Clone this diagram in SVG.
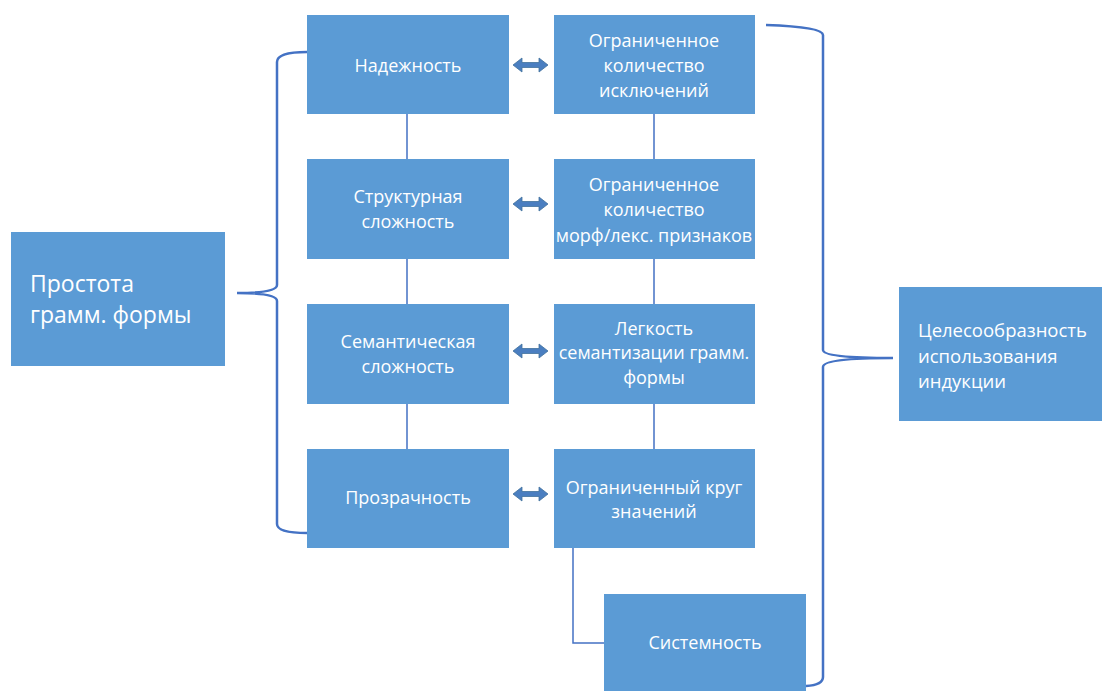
<svg xmlns="http://www.w3.org/2000/svg" width="1102" height="691" viewBox="0 0 1102 691">
<style>
.box{fill:#5B9BD5;}
.t{font-family:"Open Sans","Noto Sans",sans-serif;font-size:18px;fill:#FFFFFF;text-anchor:middle;}
.big{font-family:"Open Sans","Noto Sans",sans-serif;fill:#FFFFFF;}
.ln{fill:none;stroke:#4472C4;stroke-width:1.5;}
.br{fill:none;stroke:#4472C4;stroke-width:2.5;}
.arr{fill:#4A7EC0;stroke:#41719C;stroke-width:0.8;}
</style>
<defs>
<path id="dbl" class="arr" d="M0,0 L9,-7 L9,-2.5 L26,-2.5 L26,-7 L35,0 L26,7 L26,2.5 L9,2.5 L9,7 Z"/>
</defs>
<rect width="1102" height="691" fill="#FFFFFF"/>
<g id="connectors">
<path class="br" d="M307,52 Q277,52 277,62 L277,285 Q277,293 237,293 Q277,293 277,301 L277,524 Q277,533 307,533"/>
<path class="br" d="M766,25 Q823,27 823,35 L823,350 Q823,358 893,358 Q823,358 823,367 L823,677 Q823,685 806,686"/>
<path class="ln" d="M407,114 L407,159 M407,259 L407,304 M407,404 L407,449"/>
<path class="ln" d="M654,114 L654,159 M654,259 L654,304 M654,404 L654,449"/>
<path class="ln" d="M573,548 L573,643 L604,643"/>
<use href="#dbl" x="513" y="65"/>
<use href="#dbl" x="513" y="204"/>
<use href="#dbl" x="513" y="351"/>
<use href="#dbl" x="513" y="494"/>
</g>
<g id="n-prostota"><rect class="box" x="11" y="232" width="214" height="134"/>
<text class="big" font-size="23" x="30" y="292">Простота</text>
<text class="big" font-size="23" x="30" y="323">грамм. формы</text></g>
<g id="n-nadezhnost"><rect class="box" x="307" y="15" width="202" height="99"/>
<text class="t" x="408" y="72">Надежность</text></g>
<g id="n-isklyucheniy"><rect class="box" x="554" y="15" width="201" height="99"/>
<text class="t" x="654" y="47">Ограниченное</text>
<text class="t" x="654" y="72">количество</text>
<text class="t" x="654" y="97">исключений</text></g>
<g id="n-struct"><rect class="box" x="307" y="159" width="202" height="100"/>
<text class="t" x="408" y="203">Структурная</text>
<text class="t" x="408" y="228">сложность</text></g>
<g id="n-morf"><rect class="box" x="554" y="159" width="201" height="100"/>
<text class="t" x="654" y="191">Ограниченное</text>
<text class="t" x="654" y="216">количество</text>
<text class="t" x="654" y="242">морф/лекс. признаков</text></g>
<g id="n-sem"><rect class="box" x="307" y="304" width="202" height="100"/>
<text class="t" x="408" y="348">Семантическая</text>
<text class="t" x="408" y="373">сложность</text></g>
<g id="n-legkost"><rect class="box" x="554" y="304" width="201" height="100"/>
<text class="t" x="654" y="335">Легкость</text>
<text class="t" x="654" y="359">семантизации грамм.</text>
<text class="t" x="654" y="384">формы</text></g>
<g id="n-prozr"><rect class="box" x="307" y="449" width="202" height="99"/>
<text class="t" x="408" y="504">Прозрачность</text></g>
<g id="n-krug"><rect class="box" x="554" y="449" width="201" height="99"/>
<text class="t" x="654" y="494">Ограниченный круг</text>
<text class="t" x="654" y="518">значений</text></g>
<g id="n-sist"><rect class="box" x="604" y="594" width="202" height="97"/>
<text class="t" x="705" y="649">Системность</text></g>
<g id="n-tsel"><rect class="box" x="899" y="287" width="203" height="134"/>
<text class="big" font-size="18.5" x="918" y="337">Целесообразность</text>
<text class="big" font-size="18.5" x="918" y="363">использования</text>
<text class="big" font-size="18.5" x="918" y="388">индукции</text></g>
</svg>
